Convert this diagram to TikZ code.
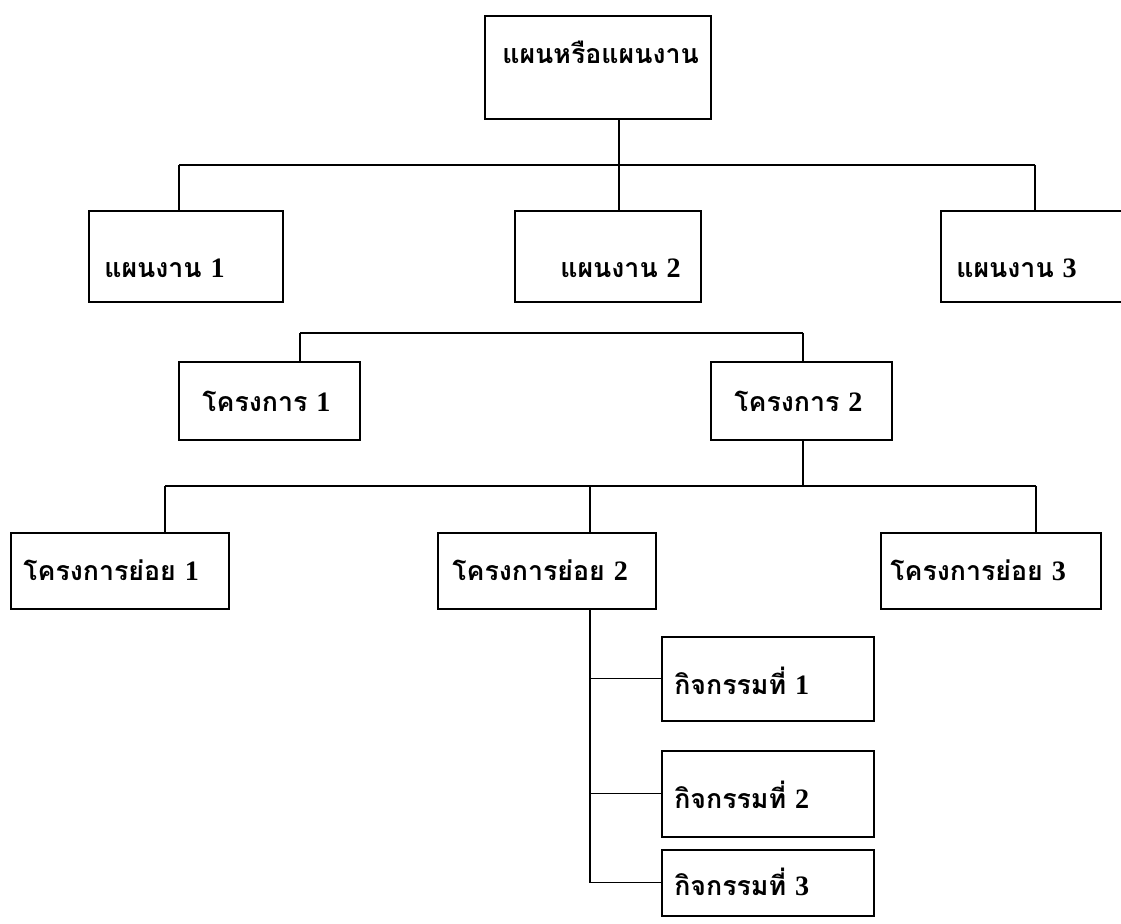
\documentclass[tikz,border=0pt]{standalone}
\usepackage{fontspec}
\newfontfamily\thaifont[Script=Thai]{Loma}
\newfontfamily\numfont{Liberation Serif}
\newcommand\px{0.025cm}
\newcommand\nr[1]{{\numfont\bfseries\fontsize{20}{21}\selectfont #1}}
\begin{document}
\begin{tikzpicture}[x=0.025cm,y=-0.025cm,
	box/.style 2 args={draw, line width=1.1pt, rectangle, inner sep=0pt, anchor=north west,
		minimum width=#1*\px, minimum height=#2*\px},
	lbl/.style={font=\thaifont\bfseries\fontsize{19}{21}\selectfont, inner sep=0pt, anchor=west},
	conn/.style={line width=0.8pt}]
	\useasboundingbox (0,0) rectangle (1121,924);
	\clip (0,0) rectangle (1121,924);
	% boxes
	\node[box={226}{103}] (top) at (484,15) {};
	\node[box={194}{91}] (p1) at (88,210) {};
	\node[box={186}{91}] (p2) at (514,210) {};
	\node[box={200}{91}] (p3) at (940,210) {};
	\node[box={181}{78}] (pr1) at (178,361) {};
	\node[box={181}{78}] (pr2) at (710,361) {};
	\node[box={218}{76}] (s1) at (10,532) {};
	\node[box={218}{76}] (s2) at (437,532) {};
	\node[box={220}{76}] (s3) at (880,532) {};
	\node[box={212}{84}] (a1) at (661,636) {};
	\node[box={212}{86}] (a2) at (661,750) {};
	\node[box={212}{66}] (a3) at (661,849) {};
	% texts
	\node[lbl] (ttop) at (502,52) {แผนหรือแผนงาน};
	\node[lbl] (tp1) at (104,268) {แผนงาน \nr{1}};
	\node[lbl] (tp2) at (560,268) {แผนงาน \nr{2}};
	\node[lbl] (tp3) at (956,268) {แผนงาน \nr{3}};
	\node[lbl] (tpr1) at (202,401) {โครงการ \nr{1}};
	\node[lbl] (tpr2) at (734,401) {โครงการ \nr{2}};
	\node[lbl] (ts1) at (23,570) {โครงการย่อย \nr{1}};
	\node[lbl] (ts2) at (452,570) {โครงการย่อย \nr{2}};
	\node[lbl] (ts3) at (890,570) {โครงการย่อย \nr{3}};
	\node[lbl] (ta1) at (674,681) {กิจกรรมที่ \nr{1}};
	\node[lbl] (ta2) at (674,795) {กิจกรรมที่ \nr{2}};
	\node[lbl] (ta3) at (674,882) {กิจกรรมที่ \nr{3}};
	% joints
	\coordinate (k0) at (619,165);
	\coordinate (k1) at (179,165);
	\coordinate (k3) at (1035,165);
	\coordinate (m1) at (300,333);
	\coordinate (m2) at (803,333);
	\coordinate (n0) at (803,486);
	\coordinate (n1) at (165,486);
	\coordinate (n2) at (590,486);
	\coordinate (n3) at (1036,486);
	\coordinate (q0) at (590,882);
	% connectors
	\draw[conn] (k0 |- top.south) -- (k0);
	\draw[conn] (k1) -- (k3);
	\draw[conn] (k1) -- (k1 |- p1.north);
	\draw[conn] (k0) -- (k0 |- p2.north);
	\draw[conn] (k3) -- (k3 |- p3.north);
	\draw[conn] (m1) -- (m2);
	\draw[conn] (m1) -- (m1 |- pr1.north);
	\draw[conn] (m2) -- (m2 |- pr2.north);
	\draw[conn] (n0 |- pr2.south) -- (n0);
	\draw[conn] (n1) -- (n3);
	\draw[conn] (n1) -- (n1 |- s1.north);
	\draw[conn] (n2) -- (n2 |- s2.north);
	\draw[conn] (n3) -- (n3 |- s3.north);
	\draw[conn] (q0 |- s2.south) -- (q0 |- a3.west) -- (a3.west);
	\draw[conn] (q0 |- a1.west) -- (a1.west);
	\draw[conn] (q0 |- a2.west) -- (a2.west);
\end{tikzpicture}
\end{document}
